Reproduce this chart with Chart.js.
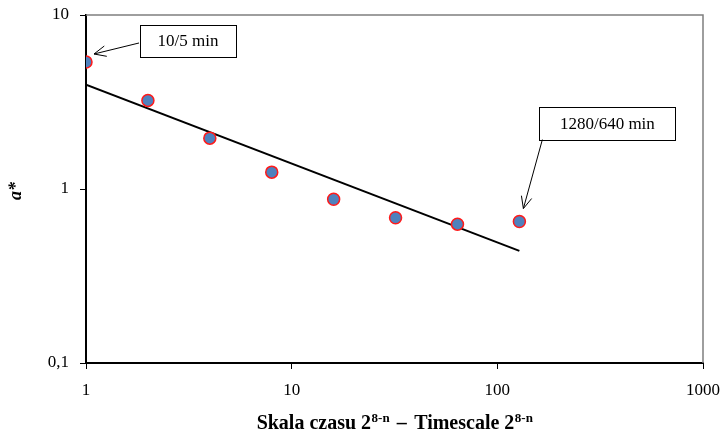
<!DOCTYPE html>
<html>
<head>
<meta charset="utf-8">
<script src="https://cdn.jsdelivr.net/npm/chart.js@4/dist/chart.umd.min.js"></script>
<style>
  html, body { margin: 0; padding: 0; background: #fff; }
  #wrap { width: 721px; height: 433px; position: relative; }
</style>
</head>
<body>
<div id="wrap"><canvas id="c" width="721" height="433"></canvas></div>
<script>
// Timescale 2^(8-n) and the measured a* values
const timescale = [1, 2, 4, 8, 16, 32, 64, 128];
const aStar = [5.37, 3.23, 1.96, 1.25, 0.874, 0.683, 0.628, 0.65];

// Power-law trend line endpoints (x, a*)
const trendX = [1, 128];
const trendY = [3.98, 0.441];

// Decade ticks on both log axes
const xTicks = [1, 10, 100, 1000];
const yTicks = [0.1, 1, 10];

// Callout labels and the point each one points to
const callouts = [
  { text: '10/5 min', index: 0 },
  { text: '1280/640 min', index: 7 }
];

const SERIF = '"Liberation Serif", "Times New Roman", serif';

const points = timescale.map((x, i) => ({ x: x, y: aStar[i] }));
const trend = trendX.map((x, i) => ({ x: x, y: trendY[i] }));

const frame = {
  id: 'frame',
  beforeDatasetsDraw(chart) {
    const a = chart.chartArea, ctx = chart.ctx;
    ctx.save();
    ctx.strokeStyle = '#7f7f7f';
    ctx.lineWidth = 1.5;
    ctx.beginPath();
    ctx.moveTo(a.left, a.top);
    ctx.lineTo(a.right, a.top);
    ctx.lineTo(a.right, a.bottom);
    ctx.stroke();
    ctx.restore();
  },
  afterDraw(chart) {
    const ctx = chart.ctx, a = chart.chartArea;
    const xs = chart.scales.x, ys = chart.scales.y;

    // y axis title: a*
    ctx.save();
    ctx.fillStyle = '#000';
    ctx.font = 'italic bold 18px ' + SERIF;
    ctx.textAlign = 'center';
    ctx.textBaseline = 'middle';
    ctx.translate(16, 191);
    ctx.rotate(-Math.PI / 2);
    ctx.fillText('a*', 0, 0);
    ctx.restore();

    // x axis title with superscripts
    ctx.save();
    const big = 'bold 20px ' + SERIF, small = 'bold 13px ' + SERIF;
    const piece = (base, sup) => {
      ctx.font = big; const w1 = ctx.measureText(base).width;
      ctx.font = small; const w2 = ctx.measureText(sup).width;
      return { base, sup, w1, w2, w: w1 + w2 };
    };
    const left = piece('Skala czasu 2', '8-n');
    const right = piece('Timescale 2', '8-n');
    const gap = 25;
    const total = left.w + gap + right.w;
    let cx = (a.left + a.right) / 2 - total / 2;
    const by = 429;
    ctx.fillStyle = '#000';
    ctx.textBaseline = 'alphabetic';
    ctx.textAlign = 'left';
    const drawPiece = (p) => {
      ctx.font = big; ctx.fillText(p.base, cx, by); cx += p.w1;
      ctx.font = small; ctx.fillText(p.sup, cx + 0.5, by - 7); cx += p.w2;
    };
    drawPiece(left);
    ctx.font = big;
    ctx.textAlign = 'center';
    ctx.fillText('\u2013', cx + gap / 2, by);
    ctx.textAlign = 'left';
    cx += gap;
    drawPiece(right);
    ctx.restore();

    // callout boxes with arrows
    ctx.save();
    ctx.font = '17px ' + SERIF;
    ctx.lineWidth = 1;
    ctx.strokeStyle = '#000';
    const drawArrow = (x0, y0, x1, y1) => {
      ctx.beginPath();
      ctx.moveTo(x0, y0);
      ctx.lineTo(x1, y1);
      const ang = Math.atan2(y1 - y0, x1 - x0), h = 13, w = 0.42;
      ctx.moveTo(x1 - h * Math.cos(ang - w), y1 - h * Math.sin(ang - w));
      ctx.lineTo(x1, y1);
      ctx.lineTo(x1 - h * Math.cos(ang + w), y1 - h * Math.sin(ang + w));
      ctx.stroke();
    };
    callouts.forEach((c, k) => {
      const px = xs.getPixelForValue(timescale[c.index]);
      const py = ys.getPixelForValue(aStar[c.index]);
      let bx, bt, bw, bh, ax0, ay0, ax1, ay1;
      if (k === 0) {
        bx = px + 54; bt = py - 37; bw = 96; bh = 32;
        ax0 = bx - 1; ay0 = bt + 18; ax1 = px + 8; ay1 = py - 8;
      } else {
        bx = px + 20; bt = py - 115; bw = 136; bh = 33;
        ax0 = bx + 3; ay0 = bt + bh; ax1 = px + 4; ay1 = py - 13;
      }
      ctx.fillStyle = '#fff';
      ctx.fillRect(bx, bt, bw, bh);
      ctx.strokeRect(Math.round(bx) + 0.5, Math.round(bt) + 0.5, bw, bh);
      ctx.fillStyle = '#000';
      ctx.textAlign = 'center';
      ctx.textBaseline = 'middle';
      ctx.fillText(c.text, bx + bw / 2, bt + bh / 2 + 1);
      drawArrow(ax0, ay0, ax1, ay1);
    });
    ctx.restore();
  }
};

new Chart(document.getElementById('c'), {
  type: 'scatter',
  data: {
    datasets: [
      {
        label: 'Trend',
        data: trend,
        showLine: true,
        borderColor: '#000',
        borderWidth: 2,
        pointRadius: 0,
        fill: false,
        order: 2
      },
      {
        label: 'a*',
        data: points,
        backgroundColor: '#4F81BD',
        borderColor: '#FF1A1A',
        borderWidth: 1.5,
        pointRadius: 6,
        pointHoverRadius: 6,
        order: 1
      }
    ]
  },
  options: {
    responsive: false,
    animation: false,
    events: [],
    layout: { padding: { top: 15, right: 18, left: 0, bottom: 0 } },
    plugins: { legend: { display: false }, tooltip: { enabled: false } },
    scales: {
      x: {
        type: 'logarithmic',
        min: 1, max: 1000,
        afterBuildTicks(s) { s.ticks = xTicks.map(v => ({ value: v })); },
        afterFit(s) { s.height = 70; s.paddingLeft = 0; s.paddingRight = 0; },
        border: { display: true, color: '#000', width: 2 },
        grid: { drawOnChartArea: false, drawTicks: true, tickLength: 6, color: '#000' },
        ticks: {
          color: '#000',
          font: { family: SERIF, size: 17 },
          padding: 11,
          maxRotation: 0,
          autoSkip: false,
          callback: v => String(v)
        }
      },
      y: {
        type: 'logarithmic',
        min: 0.1, max: 10,
        afterBuildTicks(s) { s.ticks = yTicks.map(v => ({ value: v })); },
        afterFit(s) { s.width = 86; s.paddingTop = 0; s.paddingBottom = 0; },
        border: { display: true, color: '#000', width: 2 },
        grid: { drawOnChartArea: false, drawTicks: true, tickLength: 6, color: '#000' },
        ticks: {
          color: '#000',
          font: { family: SERIF, size: 17 },
          padding: 11,
          autoSkip: false,
          callback: v => String(v).replace('.', ',')
        }
      }
    }
  },
  plugins: [frame]
});
</script>
</body>
</html>
